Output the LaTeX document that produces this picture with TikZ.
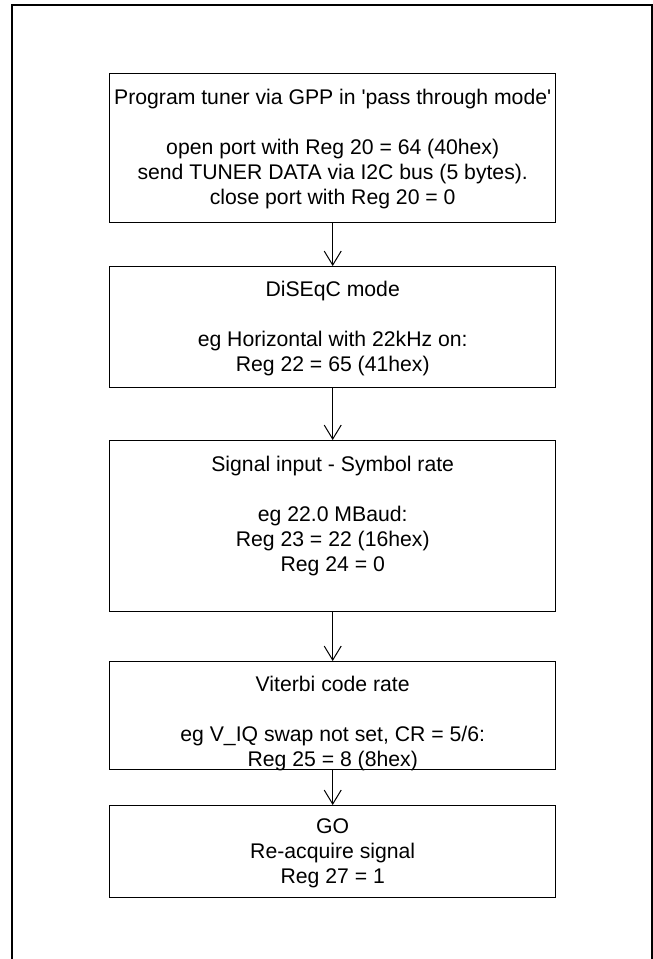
\documentclass[tikz,border=0pt]{standalone}
\usepackage{fontspec}
\setmainfont{Liberation Sans}
\usetikzlibrary{arrows.meta}
\begin{document}
\begin{tikzpicture}[x=1pt,y=-1pt,
  stepbox/.style={draw=black,line width=1.4pt,minimum width=446pt,anchor=north west,inner sep=0pt},
  steptext/.style={anchor=north,align=center,inner sep=0pt,
    font=\fontsize{21.2pt}{25pt}\selectfont},
  flow/.style={line width=1pt,-{Straight Barb[length=14pt,width=17pt,line width=1pt]}}]
\useasboundingbox (0,0) rectangle (653,959);
% outer frame, runs off the page on the right and at the bottom
\draw[line width=2.6pt] (12,971) -- (12,5) -- (652.5,5) -- (652.5,971);

% process boxes
\node[stepbox,minimum height=149pt] (b1) at (109,73) {};
\node[stepbox,minimum height=121pt] (b2) at (109,266) {};
\node[stepbox,minimum height=171pt] (b3) at (109,440) {};
\node[stepbox,minimum height=108pt] (b4) at (109,661) {};
\node[stepbox,minimum height=92pt]  (b5) at (109,805) {};

% box contents
\node[steptext] (t1) at ([yshift=-15.5pt]b1.north) {Program tuner via GPP in \textquotesingle pass through mode\textquotesingle\\ \mbox{}\\open port with Reg 20 = 64 (40hex)\\send TUNER DATA via I2C bus (5 bytes).\\close port with Reg 20 = 0};
\node[steptext] (t2) at ([yshift=-14.5pt]b2.north) {DiSEqC mode\\ \mbox{}\\eg Horizontal with 22kHz on:\\Reg 22 = 65 (41hex)};
\node[steptext] (t3) at ([yshift=-15.5pt]b3.north) {Signal input - Symbol rate\\ \mbox{}\\eg 22.0 MBaud:\\Reg 23 = 22 (16hex)\\Reg 24 = 0};
\node[steptext] (t4) at ([yshift=-14.5pt]b4.north) {Viterbi code rate\\ \mbox{}\\eg V\_IQ swap not set, CR = 5/6:\\Reg 25 = 8 (8hex)};
\node[steptext] (t5) at ([yshift=-13.5pt]b5.north) {GO\\Re-acquire signal\\Reg 27 = 1};

% connectors
\draw[flow] (b1.south) -- (b2.north);
\draw[flow] (b2.south) -- (b3.north);
\draw[flow] (b3.south) -- (b4.north);
\draw[flow] (b4.south) -- (b5.north);
\end{tikzpicture}
\end{document}
